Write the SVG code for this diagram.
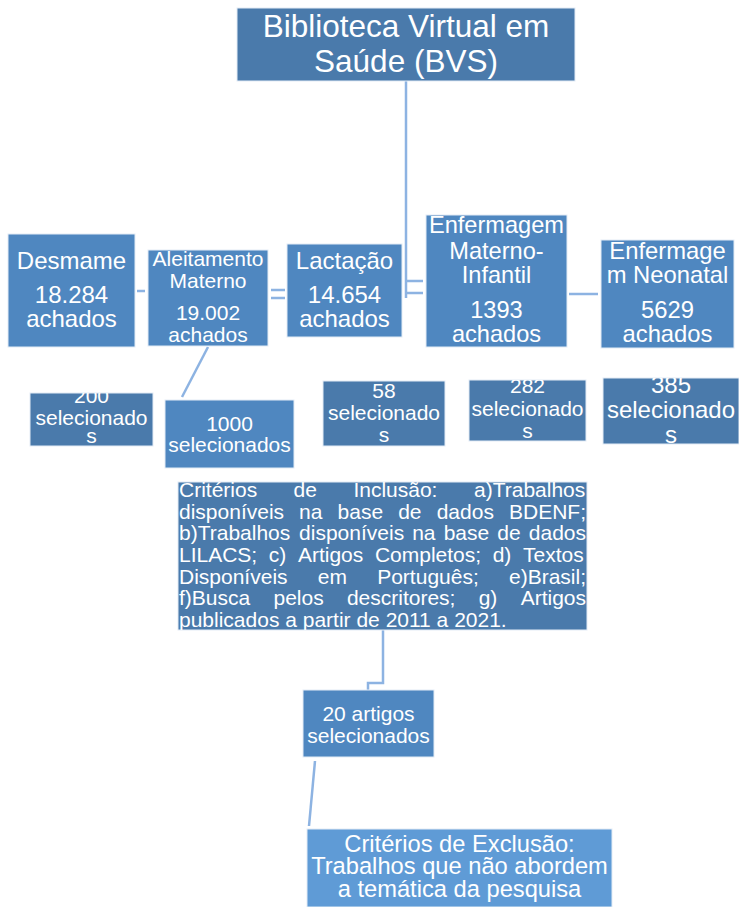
<svg xmlns="http://www.w3.org/2000/svg" width="739" height="907" viewBox="0 0 739 907">
<style>
text{font-family:"Liberation Sans",Arial,sans-serif;fill:#fff;text-anchor:middle}
.dk{fill:#4a7aab;stroke:#e3ecf6;stroke-width:1}
.md{fill:#4f87c0;stroke:#e3ecf6;stroke-width:1}
.lt{fill:#5f9bd6;stroke:#e3ecf6;stroke-width:1}
.cn{fill:none;stroke:#8db3e2;stroke-width:2.5}
.j{text-anchor:start;font-size:21px}
</style>
<defs>
<clipPath id="c200"><rect x="30" y="393" width="123" height="53"/></clipPath>
<clipPath id="c58"><rect x="323" y="381" width="122" height="65"/></clipPath>
<clipPath id="c282"><rect x="469" y="380" width="117" height="61"/></clipPath>
<clipPath id="c385"><rect x="603" y="378" width="136" height="66"/></clipPath>
<clipPath id="cinc"><rect x="178" y="482" width="409" height="148"/></clipPath>
</defs>
<rect width="739" height="907" fill="#fff"/>
<g id="connectors">
<path class="cn" d="M406,81V298"/>
<path class="cn" d="M406,281H423M406,293H423"/>
<path class="cn" d="M137,291H145"/>
<path class="cn" d="M271,290H285M271,298H285"/>
<path class="cn" d="M569,294H598"/>
<path class="cn" d="M208,347L182,397"/>
<path class="cn" d="M383,630V683H368V690"/>
<path class="cn" d="M315,761L309,826"/>
</g>
<g id="bvs">
<rect class="dk" x="237" y="8" width="338" height="73"/>
<text x="406" y="37" font-size="31.5">Biblioteca Virtual em</text>
<text x="406" y="72" font-size="31.5">Saúde (BVS)</text>
</g>
<g id="desmame">
<rect class="md" x="8" y="234" width="127" height="113"/>
<text x="71.5" y="269" font-size="24">Desmame</text>
<text x="71.5" y="303" font-size="24">18.284</text>
<text x="71.5" y="327" font-size="24">achados</text>
</g>
<g id="aleitamento">
<rect class="md" x="148" y="250" width="120" height="96"/>
<text x="208" y="266" font-size="21">Aleitamento</text>
<text x="208" y="288" font-size="21">Materno</text>
<text x="208" y="320" font-size="21">19.002</text>
<text x="208" y="342" font-size="21">achados</text>
</g>
<g id="lactacao">
<rect class="md" x="287" y="244" width="115" height="93"/>
<text x="344.5" y="269" font-size="24">Lactação</text>
<text x="344.5" y="303" font-size="24">14.654</text>
<text x="344.5" y="327" font-size="24">achados</text>
</g>
<g id="emi">
<rect class="md" x="426" y="215" width="141" height="132"/>
<text x="496.5" y="233" font-size="23.6">Enfermagem</text>
<text x="496.5" y="259" font-size="23.6">Materno-</text>
<text x="496.5" y="283" font-size="23.6">Infantil</text>
<text x="496.5" y="318" font-size="23.6">1393</text>
<text x="496.5" y="342" font-size="23.6">achados</text>
</g>
<g id="en">
<rect class="md" x="601" y="240" width="133" height="108"/>
<text x="667.5" y="259" font-size="23.8">Enfermage</text>
<text x="667.5" y="283" font-size="23.8">m Neonatal</text>
<text x="667.5" y="318" font-size="23.8">5629</text>
<text x="667.5" y="342" font-size="23.8">achados</text>
</g>
<g id="sel200">
<rect class="dk" x="30" y="393" width="123" height="53"/>
<g clip-path="url(#c200)">
<text x="91.5" y="403" font-size="21">200</text>
<text x="91.5" y="425" font-size="21">selecionado</text>
<text x="91.5" y="443" font-size="21">s</text>
</g>
</g>
<g id="sel1000">
<rect class="md" x="165" y="400" width="129" height="68"/>
<text x="229.5" y="431" font-size="21">1000</text>
<text x="229.5" y="452" font-size="21">selecionados</text>
</g>
<g id="sel58">
<rect class="dk" x="323" y="381" width="122" height="65"/>
<g clip-path="url(#c58)">
<text x="384" y="398" font-size="21">58</text>
<text x="384" y="420" font-size="21">selecionado</text>
<text x="384" y="442" font-size="21">s</text>
</g>
</g>
<g id="sel282">
<rect class="dk" x="469" y="380" width="117" height="61"/>
<g clip-path="url(#c282)">
<text x="527.5" y="393" font-size="21">282</text>
<text x="527.5" y="416" font-size="21">selecionado</text>
<text x="527.5" y="438" font-size="21">s</text>
</g>
</g>
<g id="sel385">
<rect class="dk" x="603" y="378" width="136" height="66"/>
<g clip-path="url(#c385)">
<text x="671" y="393" font-size="24">385</text>
<text x="671" y="418" font-size="24">selecionado</text>
<text x="671" y="443" font-size="24">s</text>
</g>
</g>
<g id="inclusao">
<rect class="dk" x="178" y="482" width="409" height="148"/>
<g clip-path="url(#cinc)">
<text class="j" y="497"><tspan x="179">Critérios</tspan> <tspan x="293.6">de</tspan> <tspan x="353.4">Inclusão:</tspan> <tspan x="474">a)Trabalhos</tspan></text>
<text class="j" y="518.7"><tspan x="179">disponíveis</tspan> <tspan x="299.1">na</tspan> <tspan x="337.6">base</tspan> <tspan x="398.2">de</tspan> <tspan x="436.7">dados</tspan> <tspan x="509">BDENF;</tspan></text>
<text class="j" y="540.3"><tspan x="179">b)Trabalhos</tspan> <tspan x="299.1">disponíveis</tspan> <tspan x="412.2">na</tspan> <tspan x="443.7">base</tspan> <tspan x="497.3">de</tspan> <tspan x="528.8">dados</tspan></text>
<text class="j" y="562"><tspan x="179">LILACS;</tspan> <tspan x="268.8">c)</tspan> <tspan x="297.9">Artigos</tspan> <tspan x="374.9">Completos;</tspan> <tspan x="492.7">d)</tspan> <tspan x="523">Textos</tspan></text>
<text class="j" y="583.7"><tspan x="179">Disponíveis</tspan> <tspan x="317.8">em</tspan> <tspan x="377.2">Português;</tspan> <tspan x="509">e)Brasil;</tspan></text>
<text class="j" y="605.3"><tspan x="179">f)Busca</tspan> <tspan x="273.5">pelos</tspan> <tspan x="346.9">descritores;</tspan> <tspan x="478.7">g)</tspan> <tspan x="520.7">Artigos</tspan></text>
<text class="j" x="179" y="627">publicados a partir de 2011 a 2021.</text>
</g>
</g>
<g id="artigos20">
<rect class="md" x="303" y="690" width="131" height="67"/>
<text x="368.5" y="721" font-size="21">20 artigos</text>
<text x="368.5" y="743" font-size="21">selecionados</text>
</g>
<g id="exclusao">
<rect class="lt" x="307" y="829" width="305" height="78"/>
<text x="459.5" y="852" font-size="23.7">Critérios de Exclusão:</text>
<text x="459.5" y="874" font-size="23.7">Trabalhos que não abordem</text>
<text x="459.5" y="897" font-size="23.7">a temática da pesquisa</text>
</g>
</svg>
